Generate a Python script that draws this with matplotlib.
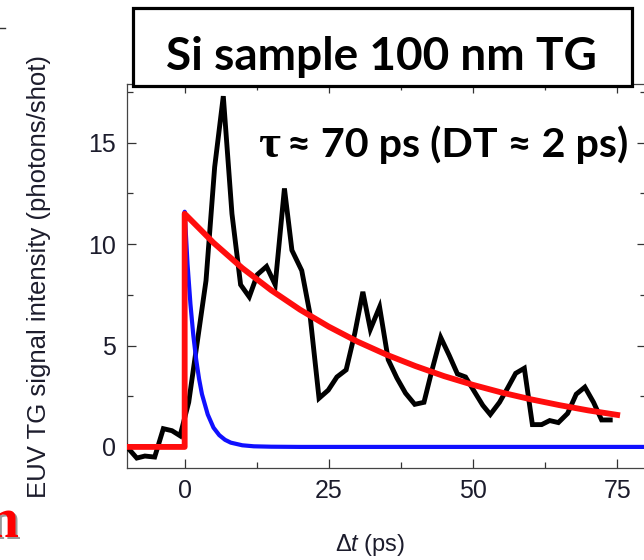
import matplotlib
matplotlib.use("Agg")
import matplotlib.pyplot as plt
from matplotlib.ticker import MultipleLocator
from matplotlib.patches import Rectangle
from matplotlib.lines import Line2D

plt.rcParams['font.family'] = ['Liberation Sans', 'DejaVu Sans']
plt.rcParams['mathtext.fontset'] = 'custom'
plt.rcParams['mathtext.rm'] = 'Liberation Sans'
plt.rcParams['mathtext.it'] = 'Liberation Sans:italic'

# ---- data ----
meas_t = [-10, -8.3, -6.9, -5.2, -3.7, -2.2, -0.8, 0.7, 2.2, 3.7, 5.2, 6.7, 8.2, 9.7,
          11.2, 12.6, 14.2, 15.7, 17.3, 18.6, 20.3, 21.7, 23.3, 24.9, 26.4, 28.0, 29.5,
          30.9, 32.2, 33.8, 35.3, 36.8, 38.3, 39.9, 41.5, 42.9, 44.4, 45.9, 47.3, 48.7,
          50.3, 51.7, 53.0, 54.6, 56.0, 57.4, 58.9, 60.3, 61.9, 63.3, 64.8, 66.4, 67.9,
          69.4, 70.9, 72.3, 73.8]
meas_y = [0.0, -0.55, -0.45, -0.5, 0.9, 0.8, 0.55, 2.2, 5.2, 8.2, 13.8, 17.3, 11.5, 8.0,
          7.4, 8.5, 8.9, 8.0, 12.75, 9.7, 8.7, 6.6, 2.4, 2.8, 3.45, 3.8, 5.6,
          7.65, 5.8, 6.9, 4.3, 3.4, 2.65, 2.1, 2.2, 3.8, 5.4, 4.5, 3.6, 3.45,
          2.7, 2.05, 1.6, 2.2, 2.9, 3.63, 3.88, 1.1, 1.1, 1.3, 1.2, 1.65, 2.6,
          2.95, 2.2, 1.33, 1.33]

fit_t = [-10, 0, 0, 5, 10, 15, 20, 25, 30, 35, 40, 45, 50, 55, 60, 65, 70, 75]
fit_y = [0, 0, 11.5, 10.07, 8.82, 7.73, 6.77, 5.93, 5.19, 4.55, 3.99, 3.49, 3.06,
         2.68, 2.35, 2.06, 1.80, 1.58]

dt_t = [-10, 0, 0, 0.5, 1, 1.5, 2, 2.5, 3, 4, 5, 6, 7, 8, 10, 12, 15, 20, 80]
dt_y = [0, 0, 11.6, 9.0, 7.05, 5.5, 4.3, 3.35, 2.6, 1.6, 0.95, 0.58, 0.35, 0.21,
        0.08, 0.03, 0.01, 0, 0]

title = "Si sample 100 nm TG"
annot_sym = "τ"
annot = "≈ 70 ps (DT ≈ 2 ps)"
xlabel = "Δ$t$ (ps)"
ylabel = "EUV TG signal intensity (photons/shot)"

W, H = 644, 560
fig = plt.figure(figsize=(W / 100, H / 100), dpi=100)
fig.patch.set_facecolor('white')

ax = fig.add_axes([127 / W, (H - 468) / H, 519 / W, 384 / H])
ax.plot(meas_t, meas_y, color='black', lw=3.5, solid_joinstyle='miter', zorder=3)
ax.plot(dt_t, dt_y, color='#1010ff', lw=3.0, zorder=4)
ax.plot(fit_t, fit_y, color='#ff0d0d', lw=4.2, zorder=5)

ax.set_xlim(-10, 80)
ax.set_ylim(-1.04, 17.9)
ax.xaxis.set_major_locator(MultipleLocator(25))
ax.xaxis.set_minor_locator(MultipleLocator(12.5))
ax.yaxis.set_major_locator(MultipleLocator(5))
ax.yaxis.set_minor_locator(MultipleLocator(2.5))
ax.tick_params(which='both', direction='in', top=True, right=True,
               color='#333333', width=0.9)
ax.tick_params(which='major', length=6.5, labelsize=18, labelcolor='#1c1c2c', pad=8)
ax.tick_params(which='minor', length=4)
for s in ax.spines.values():
    s.set_color('#444444')
    s.set_linewidth(0.9)

ax.set_xlabel(xlabel, fontsize=17, color='#1c1c2c')
ax.xaxis.label.set_va('center')
ax.xaxis.set_label_coords((370 - 127) / 519, -(545 - 468) / 384)
ax.set_ylabel(ylabel, fontsize=18.5, color='#1c1c2c')
ax.yaxis.label.set_va('center')
ax.yaxis.set_label_coords(-(127 - 39) / 519, (468 - 276) / 384)

# title box
box = Rectangle((133 / W, 1 - 86 / H), 499 / W, 78 / H, transform=fig.transFigure,
                facecolor='white', edgecolor='black', lw=2.3, zorder=10)
fig.patches.append(box)
t_title = fig.text(381 / W, 1 - 70 / H, title, ha='center', va='baseline', fontsize=34,
                   fontweight='bold', family=['Lato', 'DejaVu Sans'], zorder=11)
t_sym = fig.text(258 / W, 1 - 157 / H, annot_sym, ha='left', va='baseline', fontsize=34,
                 fontweight='bold', family=['Liberation Serif', 'DejaVu Serif'], zorder=11)
t_ann = fig.text(628 / W, 1 - 157 / H, annot, ha='right', va='baseline', fontsize=30,
                 fontweight='bold', family=['Lato', 'DejaVu Sans'], zorder=11)


def fit_width(txt, target_px):
    fig.canvas.draw()
    w = txt.get_window_extent().width
    txt.set_fontsize(txt.get_fontsize() * target_px / w)


fit_width(t_title, 432)
fit_width(t_ann, 341)

# fragments of neighbouring content at the edges
fig.add_artist(Line2D([0, 5 / W], [1 - 28 / H, 1 - 28 / H], color='#333333', lw=1))
fig.text(20 / W, 1 - 539 / H, "n", ha='right', va='baseline', fontsize=40,
         fontweight='bold', family=['Liberation Serif'], color='#999999')
fig.text(18 / W, 1 - 537 / H, "n", ha='right', va='baseline', fontsize=40,
         fontweight='bold', family=['Liberation Serif'], color='#ff0000')

fig.savefig("out.png", dpi=100)
